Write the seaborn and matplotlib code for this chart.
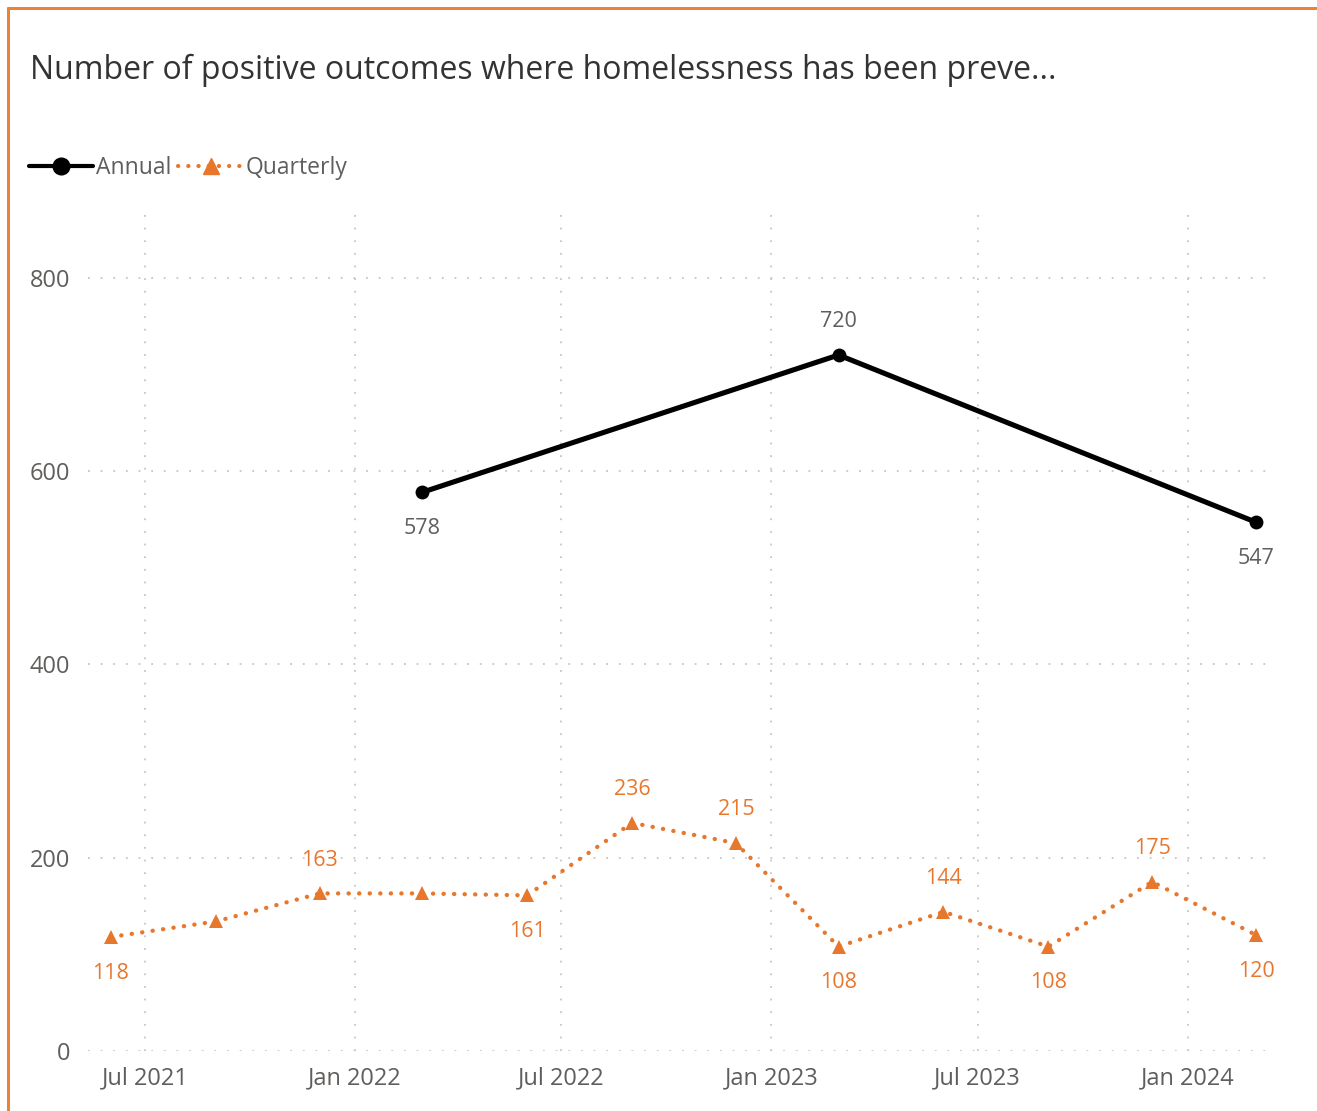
import pandas as pd
import matplotlib
matplotlib.use("Agg")
import matplotlib.pyplot as plt
import matplotlib.dates as mdates
from matplotlib.lines import Line2D
import seaborn as sns

# data
quarter_dates = ["2021-06-01", "2021-09-01", "2021-12-01", "2022-03-01",
                 "2022-06-01", "2022-09-01", "2022-12-01", "2023-03-01",
                 "2023-06-01", "2023-09-01", "2023-12-01", "2024-03-01"]
quarter_values = [118, 134, 163, 163, 161, 236, 215, 108, 144, 108, 175, 120]
# label position for each quarterly point: below, above or none
quarter_label_pos = ["below", None, "above", None, "below", "above",
                     "above", "below", "above", "below", "above", "below"]

annual_dates = ["2022-03-01", "2023-03-01", "2024-03-01"]
annual_values = [578, 720, 547]
annual_label_pos = ["below", "above", "below"]

y_ticks = [0, 200, 400, 600, 800]
title = "Number of positive outcomes where homelessness has been preve..."

ORANGE = "#E8772E"
GREY_TEXT = "#605E5C"
GRID = "#C8C6C4"
DOTTED = (0, (0.05, 2.4))

sns.set_theme(style="white")
plt.rcParams["font.family"] = ["Open Sans", "DejaVu Sans"]

quarterly = pd.DataFrame({"date": pd.to_datetime(quarter_dates), "value": quarter_values})
annual = pd.DataFrame({"date": pd.to_datetime(annual_dates), "value": annual_values})

fig = plt.figure(figsize=(13.17, 11.11), dpi=100)
ax = fig.add_axes([88 / 1317, 1 - 1051 / 1111, (1272 - 88) / 1317, (1051 - 210) / 1111])

sns.lineplot(data=annual, x="date", y="value", ax=ax, color="black",
             linewidth=3.7, marker="o", markersize=10, markeredgewidth=0)
sns.lineplot(data=quarterly, x="date", y="value", ax=ax, color=ORANGE,
             linewidth=3.1, linestyle=DOTTED, dash_capstyle="round",
             marker="^", markersize=10.5, markeredgewidth=0)


def add_labels(df, positions, color):
    for d, v, pos in zip(df["date"], df["value"], positions):
        if pos is None:
            continue
        dy = -26 if pos == "below" else 24
        ax.annotate(str(v), (d, v), xytext=(0, dy), textcoords="offset points",
                    ha="center", va="center", fontsize=15.5, color=color)


add_labels(annual, annual_label_pos, GREY_TEXT)
add_labels(quarterly, quarter_label_pos, ORANGE)

ax.set_ylim(0, 870)
ax.set_xlim(pd.Timestamp("2021-05-12"), pd.Timestamp("2024-03-15"))
ax.set_yticks(y_ticks)
ax.xaxis.set_major_locator(mdates.MonthLocator(bymonth=[1, 7]))
ax.xaxis.set_major_formatter(mdates.DateFormatter("%b %Y"))
ax.set_xlabel("")
ax.set_ylabel("")
ax.tick_params(axis="y", length=0, pad=13, labelsize=17, labelcolor=GREY_TEXT)
ax.tick_params(axis="x", length=0, pad=11, labelsize=17, labelcolor=GREY_TEXT)
ax.grid(True, color=GRID, linestyle=(0, (1, 6)), linewidth=1.3)
for s in ax.spines.values():
    s.set_visible(False)

fig.text(30 / 1317, 1 - 70 / 1111, title, fontsize=23, color="#333333",
         ha="left", va="center")

handles = [
    Line2D([], [], color="black", linewidth=3, marker="o", markersize=12),
    Line2D([], [], color=ORANGE, linewidth=3, linestyle=DOTTED,
           dash_capstyle="round", marker="^", markersize=12),
]
fig.legend(handles, ["Annual", "Quarterly"], loc="center left",
           bbox_to_anchor=(8 / 1317, 1 - 168 / 1111), ncol=2, frameon=False,
           fontsize=16.5, labelcolor=GREY_TEXT, handlelength=2.8,
           handletextpad=0.15, columnspacing=0.3)

# orange frame along top and left edges
fig.add_artist(Line2D([8 / 1317, 1], [1 - 8 / 1111, 1 - 8 / 1111],
                      transform=fig.transFigure, color="#E8833A", linewidth=2.2))
fig.add_artist(Line2D([8 / 1317, 8 / 1317], [0, 1 - 8 / 1111],
                      transform=fig.transFigure, color="#E8833A", linewidth=2.2))

fig.savefig("out.png", dpi=100)
